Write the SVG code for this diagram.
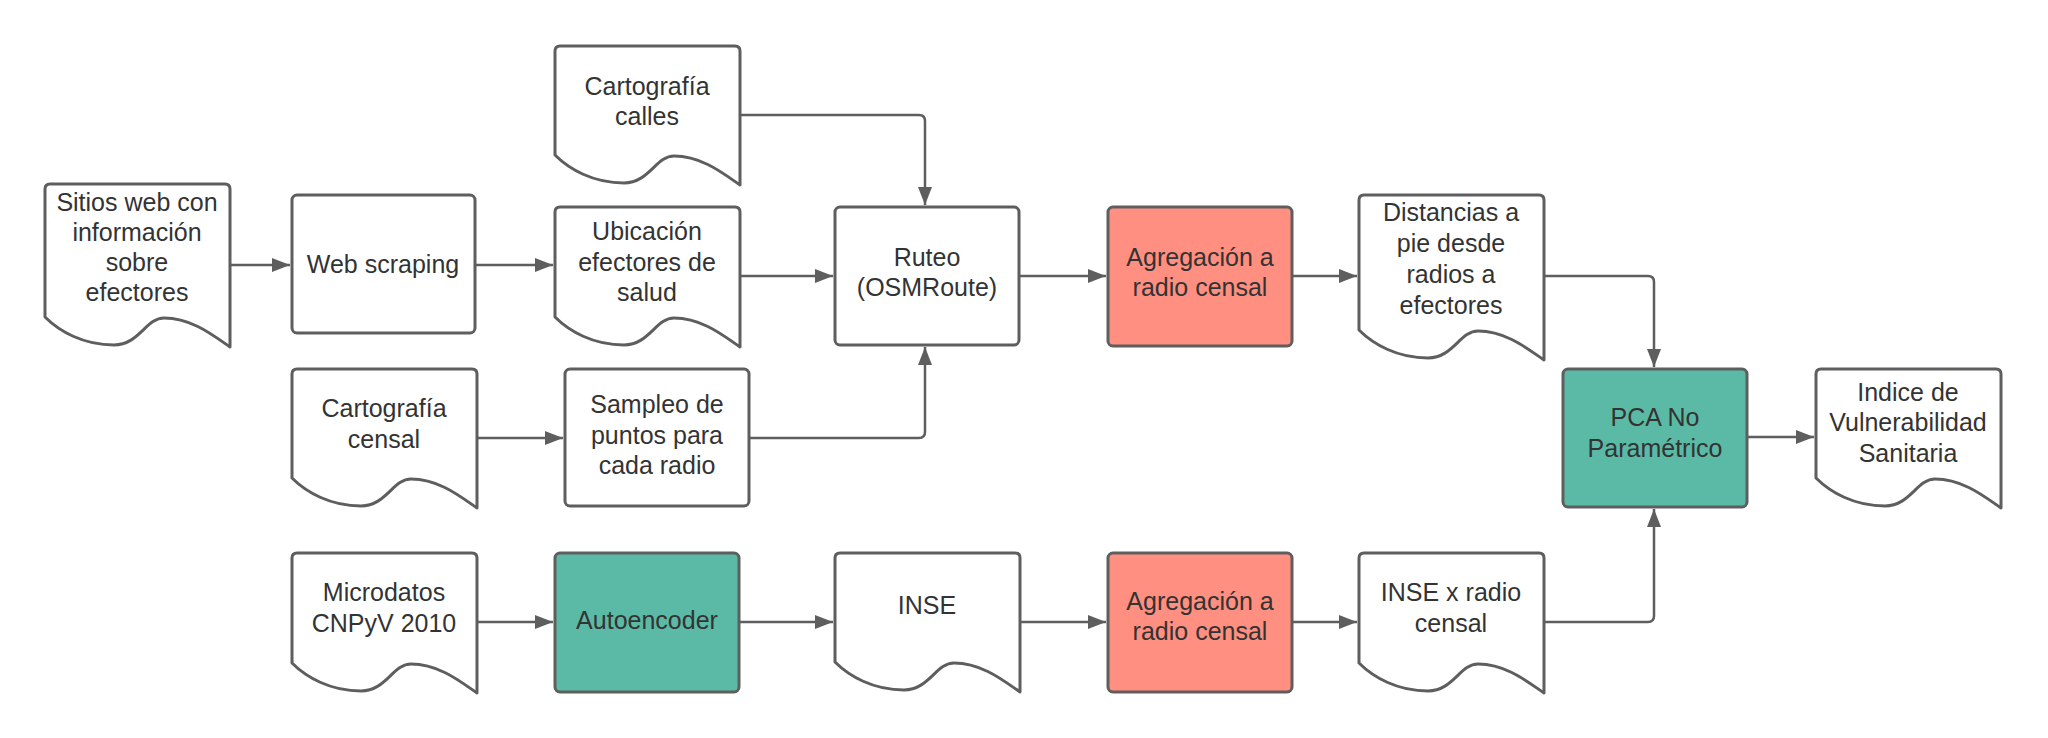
<svg xmlns="http://www.w3.org/2000/svg" width="2048" height="738" viewBox="0 0 2048 738">
<style>
.n{fill:#ffffff;stroke:#5e5e5e;stroke-width:3;stroke-linejoin:round}
.red{fill:#ff8f80}
.teal{fill:#5bbaa6}
.t{font-family:"Liberation Sans",Arial,sans-serif;font-size:25px;fill:#333333;text-anchor:middle}
.c{fill:none;stroke:#5e5e5e;stroke-width:2.5;marker-end:url(#ah)}
</style>
<defs>
<marker id="ah" markerUnits="userSpaceOnUse" markerWidth="18" markerHeight="14" refX="18" refY="7" orient="auto">
<path d="M0,0 L18,7 L0,14 Z" fill="#5e5e5e"/>
</marker>
</defs>
<rect width="2048" height="738" fill="#ffffff"/>
<g id="connectors">
<path class="c" d="M230,265 H290"/>
<path class="c" d="M475,265 H553"/>
<path class="c" d="M740,276 H833"/>
<path class="c" d="M740,115 H919 Q925,115 925,121 V205"/>
<path class="c" d="M749,438 H919 Q925,438 925,432 V347"/>
<path class="c" d="M1019,276 H1106"/>
<path class="c" d="M1292,276 H1357"/>
<path class="c" d="M1544,276 H1648 Q1654,276 1654,282 V367"/>
<path class="c" d="M477,438 H563"/>
<path class="c" d="M477,622 H553"/>
<path class="c" d="M739,622 H833"/>
<path class="c" d="M1020,622 H1106"/>
<path class="c" d="M1292,622 H1357"/>
<path class="c" d="M1544,622 H1648 Q1654,622 1654,616 V509"/>
<path class="c" d="M1747,437 H1814"/>
</g>
<g id="sitios">
<path class="n" d="M45,317 c14,14 38,28 69,28 c25,0 32,-27 50,-27 c28,0 50,18 66,29 V189 q0,-5 -5,-5 H50 q-5,0 -5,5 Z"/>
<text class="t" x="137" y="211">Sitios web con</text>
<text class="t" x="137" y="241">información</text>
<text class="t" x="137" y="271">sobre</text>
<text class="t" x="137" y="301">efectores</text>
</g>
<g id="webscraping">
<rect class="n" x="292" y="195" width="183" height="138" rx="5"/>
<text class="t" x="383" y="273">Web scraping</text>
</g>
<g id="calles">
<path class="n" d="M555,155 c14,14 38,28 69,28 c25,0 32,-27 50,-27 c28,0 50,18 66,29 V51 q0,-5 -5,-5 H560 q-5,0 -5,5 Z"/>
<text class="t" x="647" y="95">Cartografía</text>
<text class="t" x="647" y="125">calles</text>
</g>
<g id="ubicacion">
<path class="n" d="M555,317 c14,14 38,28 69,28 c25,0 32,-27 50,-27 c28,0 50,18 66,29 V212 q0,-5 -5,-5 H560 q-5,0 -5,5 Z"/>
<text class="t" x="647" y="240">Ubicación</text>
<text class="t" x="647" y="271">efectores de</text>
<text class="t" x="647" y="301">salud</text>
</g>
<g id="ruteo">
<rect class="n" x="835" y="207" width="184" height="138" rx="5"/>
<text class="t" x="927" y="266">Ruteo</text>
<text class="t" x="927" y="296">(OSMRoute)</text>
</g>
<g id="agregacion1">
<rect class="n red" x="1108" y="207" width="184" height="139" rx="5"/>
<text class="t" x="1200" y="266">Agregación a</text>
<text class="t" x="1200" y="296">radio censal</text>
</g>
<g id="distancias">
<path class="n" d="M1359,330 c14,14 38,28 69,28 c25,0 32,-27 50,-27 c28,0 50,18 66,29 V200 q0,-5 -5,-5 H1364 q-5,0 -5,5 Z"/>
<text class="t" x="1451" y="221">Distancias a</text>
<text class="t" x="1451" y="252">pie desde</text>
<text class="t" x="1451" y="283">radios a</text>
<text class="t" x="1451" y="314">efectores</text>
</g>
<g id="censal">
<path class="n" d="M292,478 c14,14 38,28 69,28 c25,0 32,-27 50,-27 c28,0 50,18 66,29 V374 q0,-5 -5,-5 H297 q-5,0 -5,5 Z"/>
<text class="t" x="384" y="417">Cartografía</text>
<text class="t" x="384" y="448">censal</text>
</g>
<g id="sampleo">
<rect class="n" x="565" y="369" width="184" height="137" rx="5"/>
<text class="t" x="657" y="413">Sampleo de</text>
<text class="t" x="657" y="444">puntos para</text>
<text class="t" x="657" y="474">cada radio</text>
</g>
<g id="microdatos">
<path class="n" d="M292,663 c14,14 38,28 69,28 c25,0 32,-27 50,-27 c28,0 50,18 66,29 V558 q0,-5 -5,-5 H297 q-5,0 -5,5 Z"/>
<text class="t" x="384" y="601">Microdatos</text>
<text class="t" x="384" y="632">CNPyV 2010</text>
</g>
<g id="autoencoder">
<rect class="n teal" x="555" y="553" width="184" height="139" rx="5"/>
<text class="t" x="647" y="629">Autoencoder</text>
</g>
<g id="inse">
<path class="n" d="M835,662 c14,14 38,28 69,28 c25,0 32,-27 50,-27 c28,0 50,18 66,29 V558 q0,-5 -5,-5 H840 q-5,0 -5,5 Z"/>
<text class="t" x="927" y="614">INSE</text>
</g>
<g id="agregacion2">
<rect class="n red" x="1108" y="553" width="184" height="139" rx="5"/>
<text class="t" x="1200" y="610">Agregación a</text>
<text class="t" x="1200" y="640">radio censal</text>
</g>
<g id="insexradio">
<path class="n" d="M1359,663 c14,14 38,28 69,28 c25,0 32,-27 50,-27 c28,0 50,18 66,29 V558 q0,-5 -5,-5 H1364 q-5,0 -5,5 Z"/>
<text class="t" x="1451" y="601">INSE x radio</text>
<text class="t" x="1451" y="632">censal</text>
</g>
<g id="pca">
<rect class="n teal" x="1563" y="369" width="184" height="138" rx="5"/>
<text class="t" x="1655" y="426">PCA No</text>
<text class="t" x="1655" y="457">Paramétrico</text>
</g>
<g id="indice">
<path class="n" d="M1816,478 c14,14 38,28 69,28 c25,0 32,-27 50,-27 c28,0 50,18 66,29 V374 q0,-5 -5,-5 H1821 q-5,0 -5,5 Z"/>
<text class="t" x="1908" y="401">Indice de</text>
<text class="t" x="1908" y="431">Vulnerabilidad</text>
<text class="t" x="1908" y="462">Sanitaria</text>
</g>
</svg>
